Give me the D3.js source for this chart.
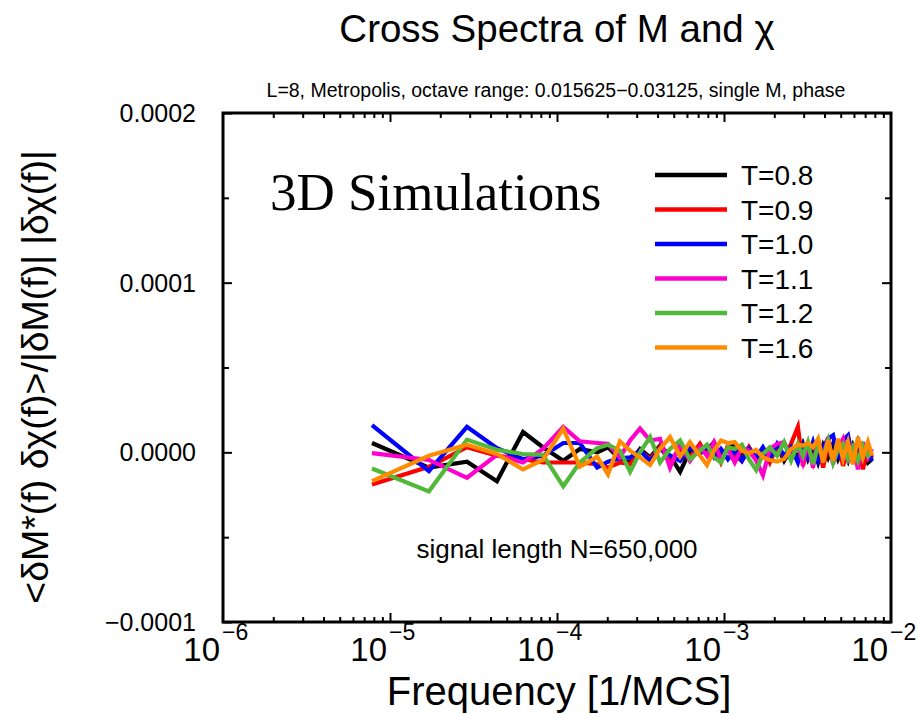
<!DOCTYPE html>
<html>
<head>
<meta charset="utf-8">
<script src="https://cdn.jsdelivr.net/npm/d3@7"></script>
<style>
  html, body { margin: 0; padding: 0; background: #fff; }
  svg { display: block; }
  text { font-family: "Liberation Sans", Arial, sans-serif; fill: #000; }
</style>
</head>
<body>
<svg id="chart" width="918" height="714"></svg>
<script>
// ---------- data ----------
const frequencies = [7.8e-6, 1.71e-5, 2.89e-5, 4.37e-5, 6.26e-5, 8.24e-5, 1.09e-4, 1.37e-4, 1.74e-4, 2.02e-4, 2.38e-4,
  2.74e-4, 3.14e-4, 3.61e-4, 4.14e-4, 4.75e-4, 5.46e-4, 6.25e-4, 7.18e-4, 7.91e-4, 8.71e-4, 9.59e-4,
  1.056e-3, 1.16e-3, 1.28e-3, 1.41e-3, 1.56e-3, 1.71e-3, 1.88e-3, 2.08e-3, 2.29e-3, 2.52e-3, 2.77e-3,
  2.97e-3, 3.18e-3, 3.41e-3, 3.66e-3, 3.92e-3, 4.20e-3, 4.50e-3, 4.82e-3, 5.16e-3, 5.53e-3, 5.92e-3,
  6.34e-3, 6.79e-3, 7.28e-3, 7.69e-3];

const seriesT08 = [0.55e-5,-0.9e-5,-0.55e-5,-1.7e-5,1.2e-5,0.3e-5,-0.5e-5,0.2e-5,0.0,0.3e-5,-0.4e-5,
  -0.6e-5,0.2e-5,-0.3e-5,0.4e-5,-0.2e-5,-1.15e-5,0.1e-5,0.3e-5,0.1e-5,0.6e-5,-0.3e-5,0.2e-5,0.55e-5,
  -0.2e-5,0.3e-5,-0.4e-5,0.2e-5,-0.3e-5,0.4e-5,-0.5e-5,0.2e-5,-0.3e-5,0.5e-5,-0.4e-5,0.3e-5,-0.6e-5,
  0.4e-5,-0.3e-5,0.5e-5,-0.4e-5,0.2e-5,-0.5e-5,0.4e-5,-0.3e-5,0.3e-5,-0.6e-5,-0.4e-5];
const seriesT09 = [-1.9e-5,-0.85e-5,0.3e-5,-0.2e-5,-0.4e-5,-0.6e-5,-0.6e-5,-0.6e-5,-0.7e-5,-0.9e-5,-0.6e-5,
  -0.7e-5,0.1e-5,-0.4e-5,0.3e-5,-0.5e-5,0.2e-5,-0.3e-5,0.5e-5,-0.2e-5,0.3e-5,-0.6e-5,0.4e-5,-0.2e-5,
  -0.5e-5,0.3e-5,-0.4e-5,0.2e-5,-0.6e-5,0.4e-5,-0.3e-5,0.5e-5,1.5e-5,-0.8e-5,0.3e-5,-0.6e-5,0.7e-5,
  -0.9e-5,0.4e-5,-0.5e-5,0.6e-5,-0.8e-5,0.3e-5,-0.4e-5,0.5e-5,-1.0e-5,0.4e-5,-0.3e-5];
const seriesT10 = [1.6e-5,-1.1e-5,1.5e-5,0.25e-5,-0.4e-5,-0.2e-5,0.55e-5,0.55e-5,-0.9e-5,-0.55e-5,-0.35e-5,
  -0.3e-5,0.1e-5,-0.5e-5,0.2e-5,-0.2e-5,-0.5e-5,0.3e-5,-0.1e-5,0.4e-5,-0.3e-5,0.2e-5,-0.4e-5,0.1e-5,
  -0.5e-5,0.2e-5,-0.3e-5,0.3e-5,-0.4e-5,0.5e-5,-0.2e-5,0.3e-5,-0.6e-5,0.4e-5,-0.3e-5,0.6e-5,-0.5e-5,
  0.3e-5,0.8e-5,1.0e-5,-0.4e-5,0.7e-5,1.0e-5,-0.5e-5,0.6e-5,-0.3e-5,0.2e-5,-0.5e-5];
const seriesT11 = [-0.05e-5,-0.45e-5,-1.5e-5,-0.15e-5,-0.6e-5,0.2e-5,1.5e-5,0.65e-5,0.55e-5,0.5e-5,-0.3e-5,
  0.7e-5,1.4e-5,0.7e-5,0.8e-5,-0.9e-5,0.5e-5,-0.5e-5,0.3e-5,-0.2e-5,0.6e-5,-0.4e-5,0.2e-5,-0.6e-5,
  0.3e-5,0.1e-5,-0.5e-5,-1.35e-5,0.2e-5,0.5e-5,0.6e-5,-0.3e-5,0.4e-5,-0.6e-5,0.5e-5,-0.9e-5,0.7e-5,
  -0.4e-5,0.9e-5,-0.7e-5,0.3e-5,0.8e-5,-0.6e-5,0.5e-5,-1.0e-5,0.6e-5,-0.3e-5,0.2e-5];
const seriesT12 = [-0.95e-5,-2.3e-5,0.75e-5,0.15e-5,-0.1e-5,-0.15e-5,-2.0e-5,-0.6e-5,0.25e-5,0.45e-5,0.1e-5,
  -1.15e-5,0.0,0.9e-5,-0.6e-5,0.2e-5,0.7e-5,-0.4e-5,0.1e-5,0.45e-5,-0.3e-5,-0.6e-5,0.3e-5,0.2e-5,
  0.45e-5,-0.4e-5,-1.05e-5,-0.1e-5,0.3e-5,-0.2e-5,0.6e-5,-0.5e-5,0.5e-5,-0.2e-5,0.6e-5,-0.7e-5,0.4e-5,
  -0.3e-5,0.7e-5,-0.6e-5,0.2e-5,0.5e-5,-0.4e-5,0.3e-5,-0.5e-5,0.4e-5,-0.2e-5,0.1e-5];
const seriesT16 = [-1.7e-5,-0.2e-5,0.45e-5,-0.1e-5,-1.0e-5,-0.45e-5,1.4e-5,-0.85e-5,-0.25e-5,-1.3e-5,0.65e-5,
  0.1e-5,-0.3e-5,-0.75e-5,0.2e-5,0.9e-5,-0.25e-5,0.6e-5,-0.2e-5,-0.75e-5,0.1e-5,0.7e-5,0.55e-5,0.6e-5,
  0.1e-5,-0.05e-5,0.15e-5,-0.3e-5,-0.45e-5,-0.55e-5,-0.4e-5,0.2e-5,0.45e-5,0.4e-5,0.55e-5,0.3e-5,0.8e-5,
  -0.6e-5,0.7e-5,-0.5e-5,0.8e-5,-0.4e-5,0.6e-5,-0.7e-5,0.9e-5,-0.3e-5,0.6e-5,-0.2e-5];

const seriesNames = ["T=0.8", "T=0.9", "T=1.0", "T=1.1", "T=1.2", "T=1.6"];
const seriesColors = ["#000000", "#ff0000", "#0000ff", "#ff00cc", "#52b83a", "#ff8c00"];
const seriesValues = [seriesT08, seriesT09, seriesT10, seriesT11, seriesT12, seriesT16];

const xMajorTicks = [1e-6, 1e-5, 1e-4, 1e-3, 1e-2];
const xTickExponents = ["−6", "−5", "−4", "−3", "−2"];
const yMajorTicks = [-1e-4, 0, 1e-4, 2e-4];
const yTickLabels = ["−0.0001", "0.0000", "0.0001", "0.0002"];
const yMinorTicks = [-0.5e-4, 0.5e-4, 1.5e-4];

// ---------- layout ----------
const svg = d3.select("#chart");
const L = 223, R = 891, T = 113, B = 622;

const x = d3.scaleLog().domain([1e-6, 1e-2]).range([L, R]);
const y = d3.scaleLinear().domain([-1e-4, 2e-4]).range([B, T]);

const xMinorTicks = [];
for (let e = -6; e < -2; e++) for (let m = 2; m <= 9; m++) xMinorTicks.push(m * Math.pow(10, e));

// titles
svg.append("text").attr("x", 557).attr("y", 42).attr("text-anchor", "middle")
  .attr("font-size", 38.5).text("Cross Spectra of M and χ");
svg.append("text").attr("x", 556).attr("y", 97).attr("text-anchor", "middle")
  .attr("font-size", 19.5).text("L=8, Metropolis, octave range: 0.015625−0.03125, single M, phase");

// clip
svg.append("defs").append("clipPath").attr("id", "plotclip")
  .append("rect").attr("x", L).attr("y", T).attr("width", R - L).attr("height", B - T);

// lines
const line = d3.line().x((d, i) => x(frequencies[i])).y(d => y(d));
const gLines = svg.append("g").attr("clip-path", "url(#plotclip)");
seriesValues.forEach((vals, k) => {
  gLines.append("path").datum(vals).attr("d", line)
    .attr("fill", "none").attr("stroke", seriesColors[k])
    .attr("stroke-width", 4.2).attr("stroke-linejoin", "miter").attr("stroke-miterlimit", 4);
});

// axes (ticks inside)
function styleAxis(g) {
  g.select(".domain").remove();
  g.selectAll(".tick line").attr("stroke", "#000").attr("stroke-width", 2);
  g.selectAll(".tick text").remove();
}
svg.append("g").attr("transform", `translate(0,${B})`)
  .call(d3.axisBottom(x).tickValues(xMajorTicks.slice(1, -1)).tickSize(-9).tickFormat("")).call(styleAxis);
svg.append("g").attr("transform", `translate(0,${B})`)
  .call(d3.axisBottom(x).tickValues(xMinorTicks).tickSize(-5).tickFormat("")).call(styleAxis);
svg.append("g").attr("transform", `translate(0,${T})`)
  .call(d3.axisTop(x).tickValues(xMajorTicks.slice(1, -1)).tickSize(-9).tickFormat("")).call(styleAxis);
svg.append("g").attr("transform", `translate(0,${T})`)
  .call(d3.axisTop(x).tickValues(xMinorTicks).tickSize(-5).tickFormat("")).call(styleAxis);
svg.append("g").attr("transform", `translate(${L},0)`)
  .call(d3.axisLeft(y).tickValues(yMajorTicks).tickSize(-9).tickFormat("")).call(styleAxis);
svg.append("g").attr("transform", `translate(${L},0)`)
  .call(d3.axisLeft(y).tickValues(yMinorTicks).tickSize(-6).tickFormat("")).call(styleAxis);
svg.append("g").attr("transform", `translate(${R},0)`)
  .call(d3.axisRight(y).tickValues(yMajorTicks).tickSize(-9).tickFormat("")).call(styleAxis);
svg.append("g").attr("transform", `translate(${R},0)`)
  .call(d3.axisRight(y).tickValues(yMinorTicks).tickSize(-6).tickFormat("")).call(styleAxis);

// frame
svg.append("rect").attr("x", L).attr("y", T).attr("width", R - L).attr("height", B - T)
  .attr("fill", "none").attr("stroke", "#000").attr("stroke-width", 3);

// y tick labels
yMajorTicks.forEach((v, i) => {
  svg.append("text").attr("x", L - 27).attr("y", y(v) + 9).attr("text-anchor", "end")
    .attr("font-size", 25).text(yTickLabels[i]);
});

// x tick labels: 10 with superscript
xMajorTicks.forEach((v, i) => {
  const px = x(v);
  svg.append("text").attr("x", px - 3).attr("y", 661).attr("text-anchor", "end")
    .attr("font-size", 33).text("10");
  svg.append("text").attr("x", px - 1).attr("y", 640).attr("text-anchor", "start")
    .attr("font-size", 23).text(xTickExponents[i]);
});

// axis titles
svg.append("text").attr("x", 559).attr("y", 705).attr("text-anchor", "middle")
  .attr("font-size", 40).text("Frequency [1/MCS]");
svg.append("text").attr("transform", "translate(48,377) rotate(-90)").attr("text-anchor", "middle")
  .attr("font-size", 37.5).text("<δM*(f) δχ(f)>/|δM(f)| |δχ(f)|");

// annotations
svg.append("text").attr("x", 270).attr("y", 210)
  .style("font-family", "'Liberation Serif', 'Times New Roman', serif")
  .attr("font-size", 53).text("3D Simulations");
svg.append("text").attr("x", 557).attr("y", 558).attr("text-anchor", "middle")
  .attr("font-size", 26).text("signal length N=650,000");

// legend
const legendY0 = 175, legendDY = 34.5;
seriesNames.forEach((name, k) => {
  const ly = legendY0 + k * legendDY;
  svg.append("line").attr("x1", 655).attr("x2", 727).attr("y1", ly).attr("y2", ly)
    .attr("stroke", seriesColors[k]).attr("stroke-width", 4.5);
  svg.append("text").attr("x", 741).attr("y", ly + 10).attr("font-size", 28).text(name);
});
</script>
</body>
</html>
